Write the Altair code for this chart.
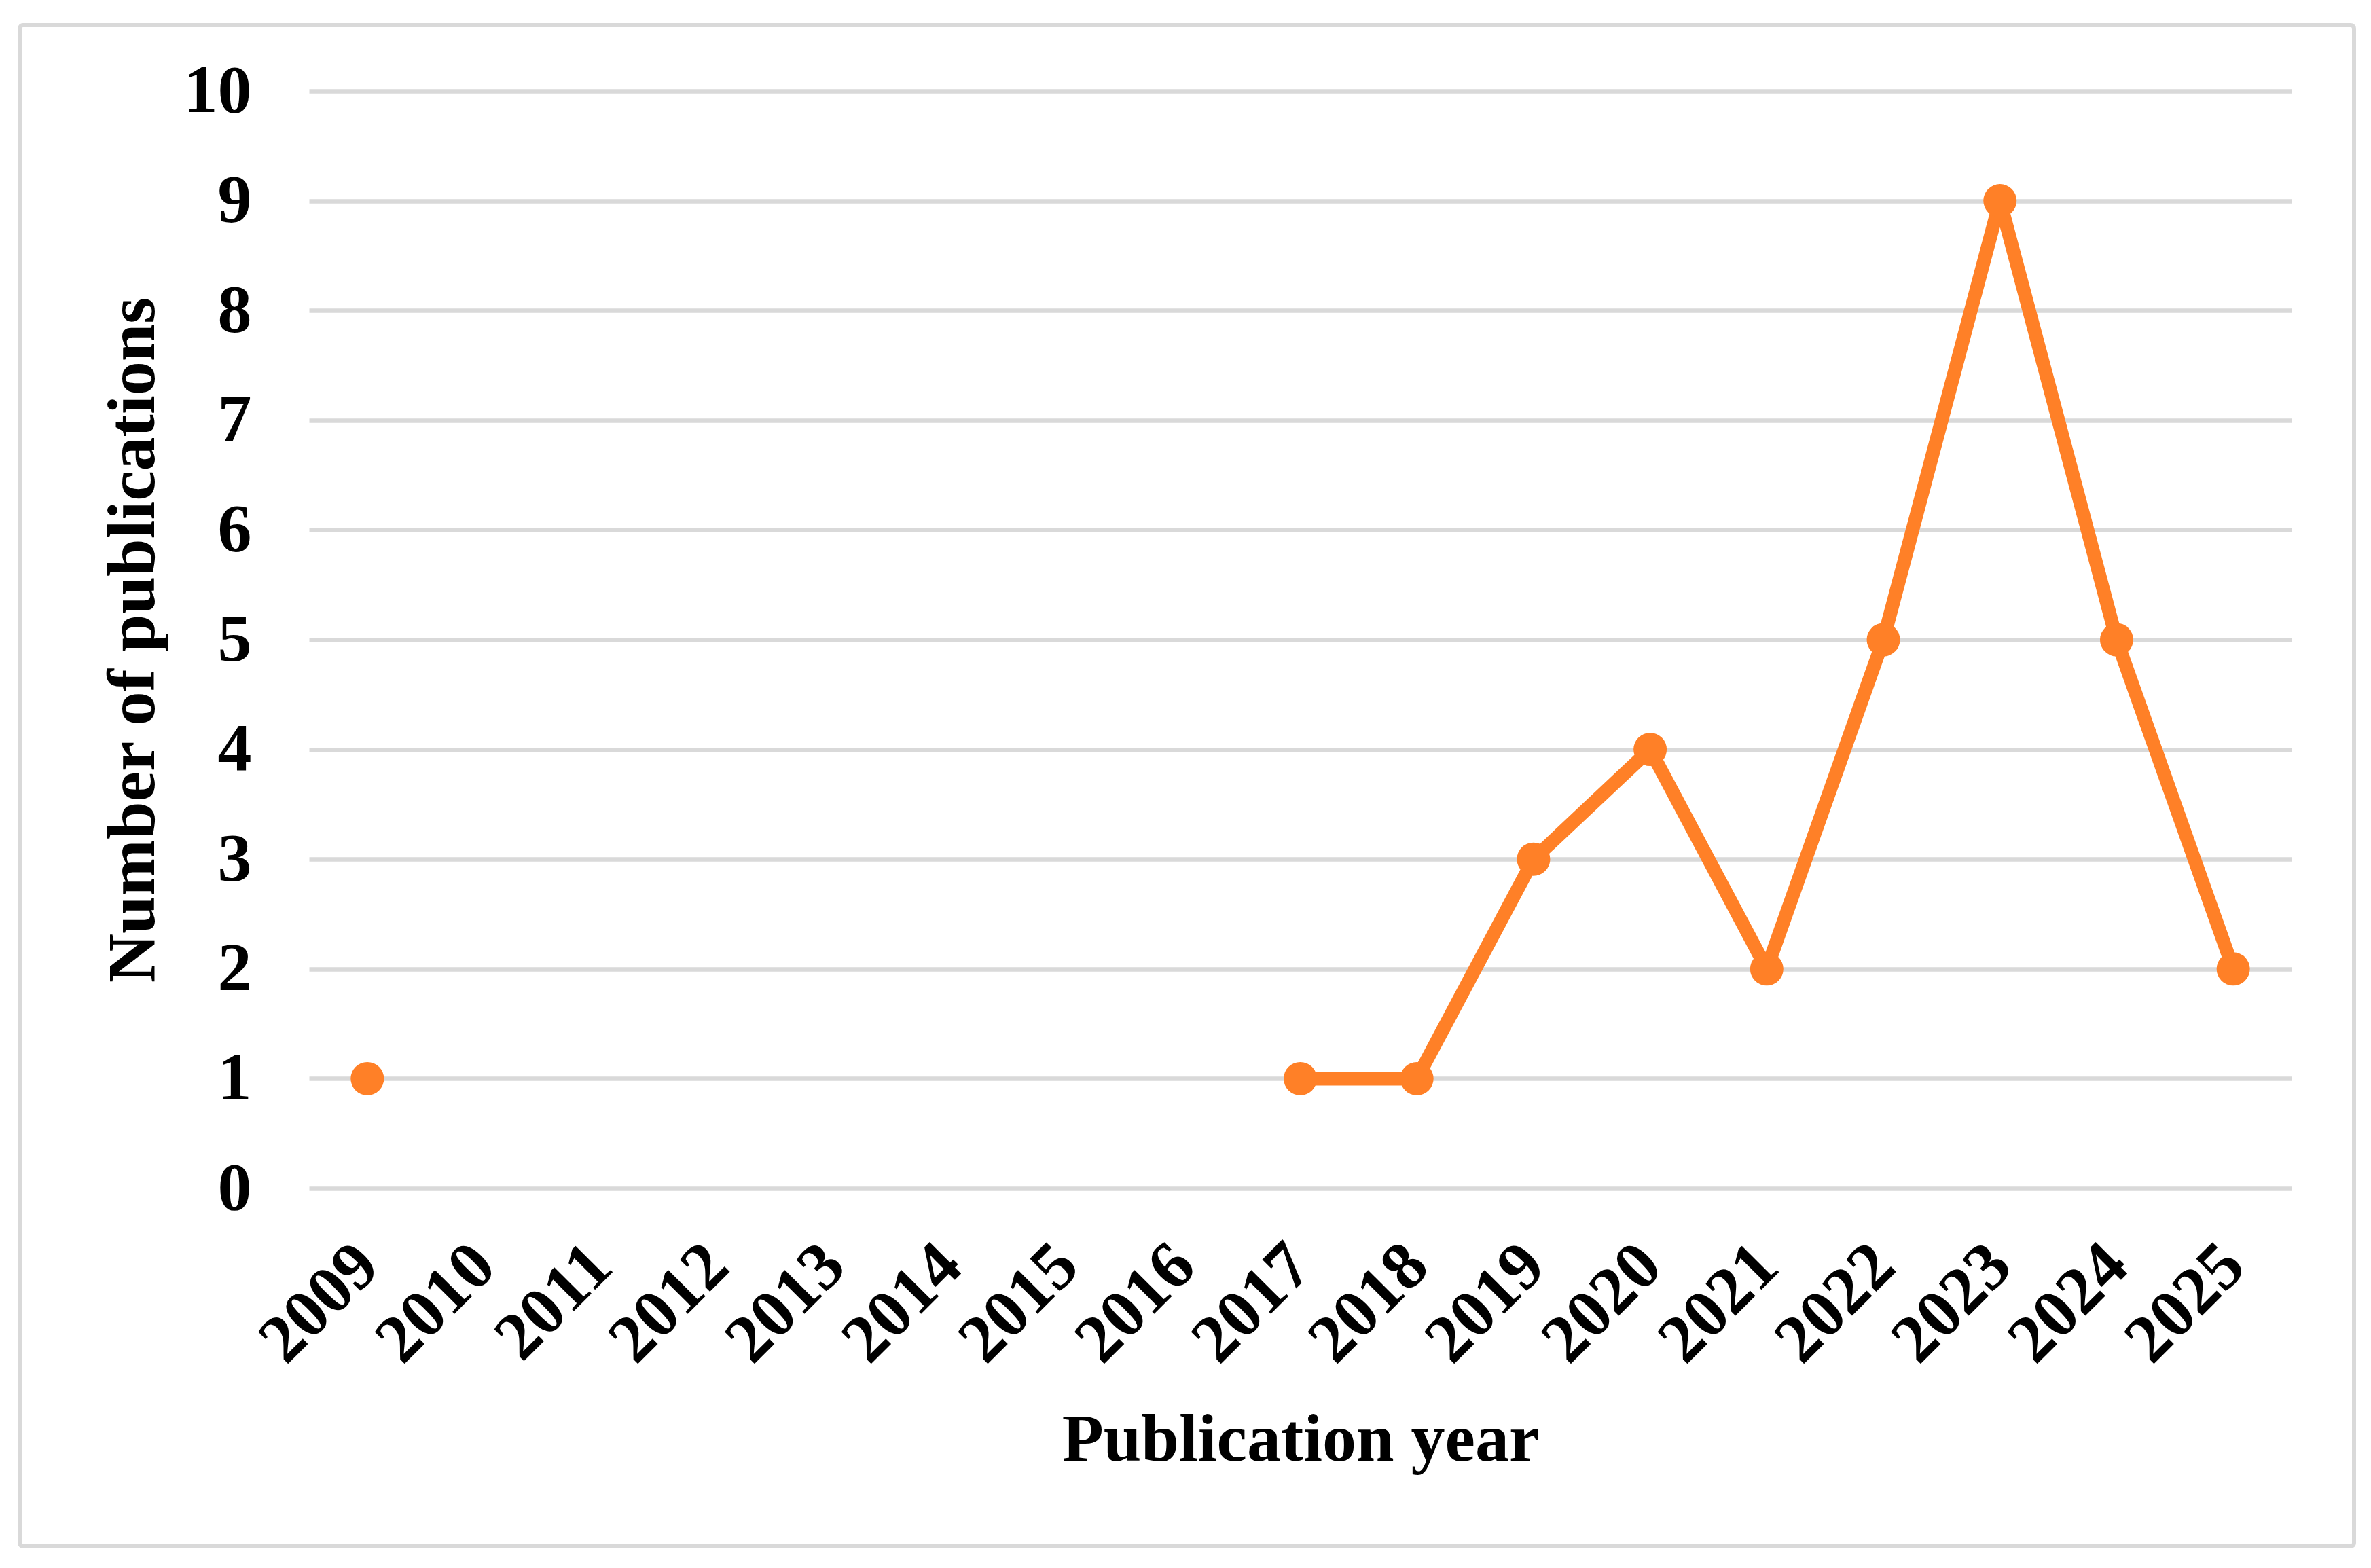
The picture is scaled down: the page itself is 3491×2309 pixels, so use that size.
import altair as alt
import pandas as pd

years = ["2009", "2010", "2011", "2012", "2013", "2014", "2015", "2016", "2017",
         "2018", "2019", "2020", "2021", "2022", "2023", "2024", "2025"]
publications = [1, None, None, None, None, None, None, None, 1,
                1, 3, 4, 2, 5, 9, 5, 2]
y_ticks = [0, 1, 2, 3, 4, 5, 6, 7, 8, 9, 10]

# split into contiguous segments so the line breaks where data is missing
rows = []
seg = 0
prev_none = True
for yr, v in zip(years, publications):
    if v is None:
        prev_none = True
        continue
    if prev_none:
        seg += 1
        prev_none = False
    rows.append({"year": yr, "count": v, "segment": seg})
df = pd.DataFrame(rows)

ORANGE = "#FF8027"
GRID = "#D9D9D9"
FONT = "Liberation Serif"
W, H = 2919, 1616

x_enc = alt.X("year:O",
              scale=alt.Scale(type="point", padding=0.5, domain=years),
              axis=alt.Axis(title="Publication year", labelAngle=-45,
                            labelAlign="right", labelBaseline="middle",
                            labelPadding=98, labelOffset=0, labelLimit=0,
                            labelOverlap=False,
                            ticks=False, domain=False, grid=False,
                            titleX=W / 2, titleY=400, titleAlign="center",
                            titleBaseline="alphabetic"))
y_enc = alt.Y("count:Q",
              scale=alt.Scale(domain=[0, 10], nice=False),
              axis=alt.Axis(title="Number of publications", values=y_ticks,
                            ticks=False, domain=False, grid=True,
                            gridColor=GRID, gridWidth=6.5, labelPadding=85,
                            titleAngle=-90, titleX=-229, titleY=H / 2,
                            titleAlign="center", titleBaseline="alphabetic"))

border = alt.Chart(alt.Data(values=[{}])).mark_rect(
    fillOpacity=0, stroke=GRID, strokeWidth=6, cornerRadius=5
).encode(x=alt.value(-426), x2=alt.value(3011), y=alt.value(-97), y2=alt.value(2143))

base = alt.Chart(df)
line = base.mark_line(color=ORANGE, strokeWidth=20, strokeJoin="round").encode(
    x=x_enc, y=y_enc, detail="segment:N")
points = base.mark_point(filled=True, shape="circle", size=2400, color=ORANGE,
                         opacity=1).encode(x=x_enc, y=y_enc)

chart = alt.layer(border, line, points).properties(
    width=W, height=H,
    autosize=alt.AutoSizeParams(type="none"),
    padding={"left": 447, "top": 126, "right": 109, "bottom": 551},
).configure_view(stroke=None).configure_axis(
    labelFont=FONT, labelFontSize=100, labelFontWeight="bold", labelColor="#000000",
    titleFont=FONT, titleFontSize=100, titleFontWeight="bold", titleColor="#000000",
)

chart.save("out.html", embed_options={"renderer": "svg", "actions": False})
